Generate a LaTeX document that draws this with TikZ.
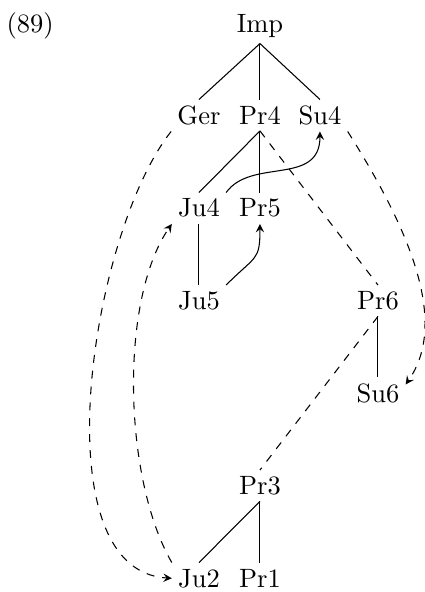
\documentclass[tikz,border=0pt]{standalone}
\usetikzlibrary{arrows}

\tikzset{
  cat/.style={anchor=base, inner sep=2.2pt},
  move/.style={dashed, ->},
}

\begin{document}
\begin{tikzpicture}[>=stealth]
  \useasboundingbox (0,0) rectangle (5.637,7.852);

  % Example number
  \node[anchor=base west, inner sep=0pt] (num) at (0.08,7.427) {(89)};

  % Nodes of the tree
  \node[cat] (Imp) at (3.448,7.427) {Imp};
  \node[cat] (Ger) at (2.639,6.200) {Ger};
  \node[cat] (Pr4) at (3.448,6.200) {Pr4};
  \node[cat] (Su4) at (4.244,6.200) {Su4};
  \node[cat] (Ju4) at (2.639,4.974) {Ju4};
  \node[cat] (Pr5) at (3.448,4.974) {Pr5};
  \node[cat] (Ju5) at (2.639,3.747) {Ju5};
  \node[cat] (Pr6) at (5.013,3.747) {Pr6};
  \node[cat] (Su6) at (5.013,2.520) {Su6};
  \node[cat] (Pr3) at (3.448,1.293) {Pr3};
  \node[cat] (Ju2) at (2.639,0.066) {Ju2};
  \node[cat] (Pr1) at (3.448,0.066) {Pr1};

  % Branches
  \draw (Imp.south) -- (Ger.north);
  \draw (Imp.south) -- (Pr4.north);
  \draw (Imp.south) -- (Su4.north);
  \draw (Pr4.south) -- (Ju4.north);
  \draw (Pr4.south) -- (Pr5.north);
  \draw (Ju4.south) -- (Ju5.north);
  \draw (Pr6.south) -- (Su6.north);
  \draw (Pr3.south) -- (Ju2.north);
  \draw (Pr3.south) -- (Pr1.north);
  \draw[dashed] (Pr4.south) -- (Pr6.north);
  \draw[dashed] (Pr6.south) -- (Pr3.north);

  % Movement arrows
  \draw[->] (Ju5.north east) .. controls +(0.398,0.398) and +(0,-0.491) .. (Pr5.south);
  \draw[->] (Ju4.north east) .. controls +(0.332,0.464) and +(0,-0.729) .. (Su4.south);
  \draw[move] (Ger.south west) .. controls +(-1.06,-1.33) and +(-1.764,0.106) .. (Ju2.west);
  \draw[move] (Ju2.north west) .. controls +(-0.637,1.101) and +(-0.703,-1.021) .. (Ju4.south west);
  \draw[move] (Su4.south east) .. controls +(0.796,-1.260) and +(0.584,0.842) .. (Su6.17);
\end{tikzpicture}
\end{document}
